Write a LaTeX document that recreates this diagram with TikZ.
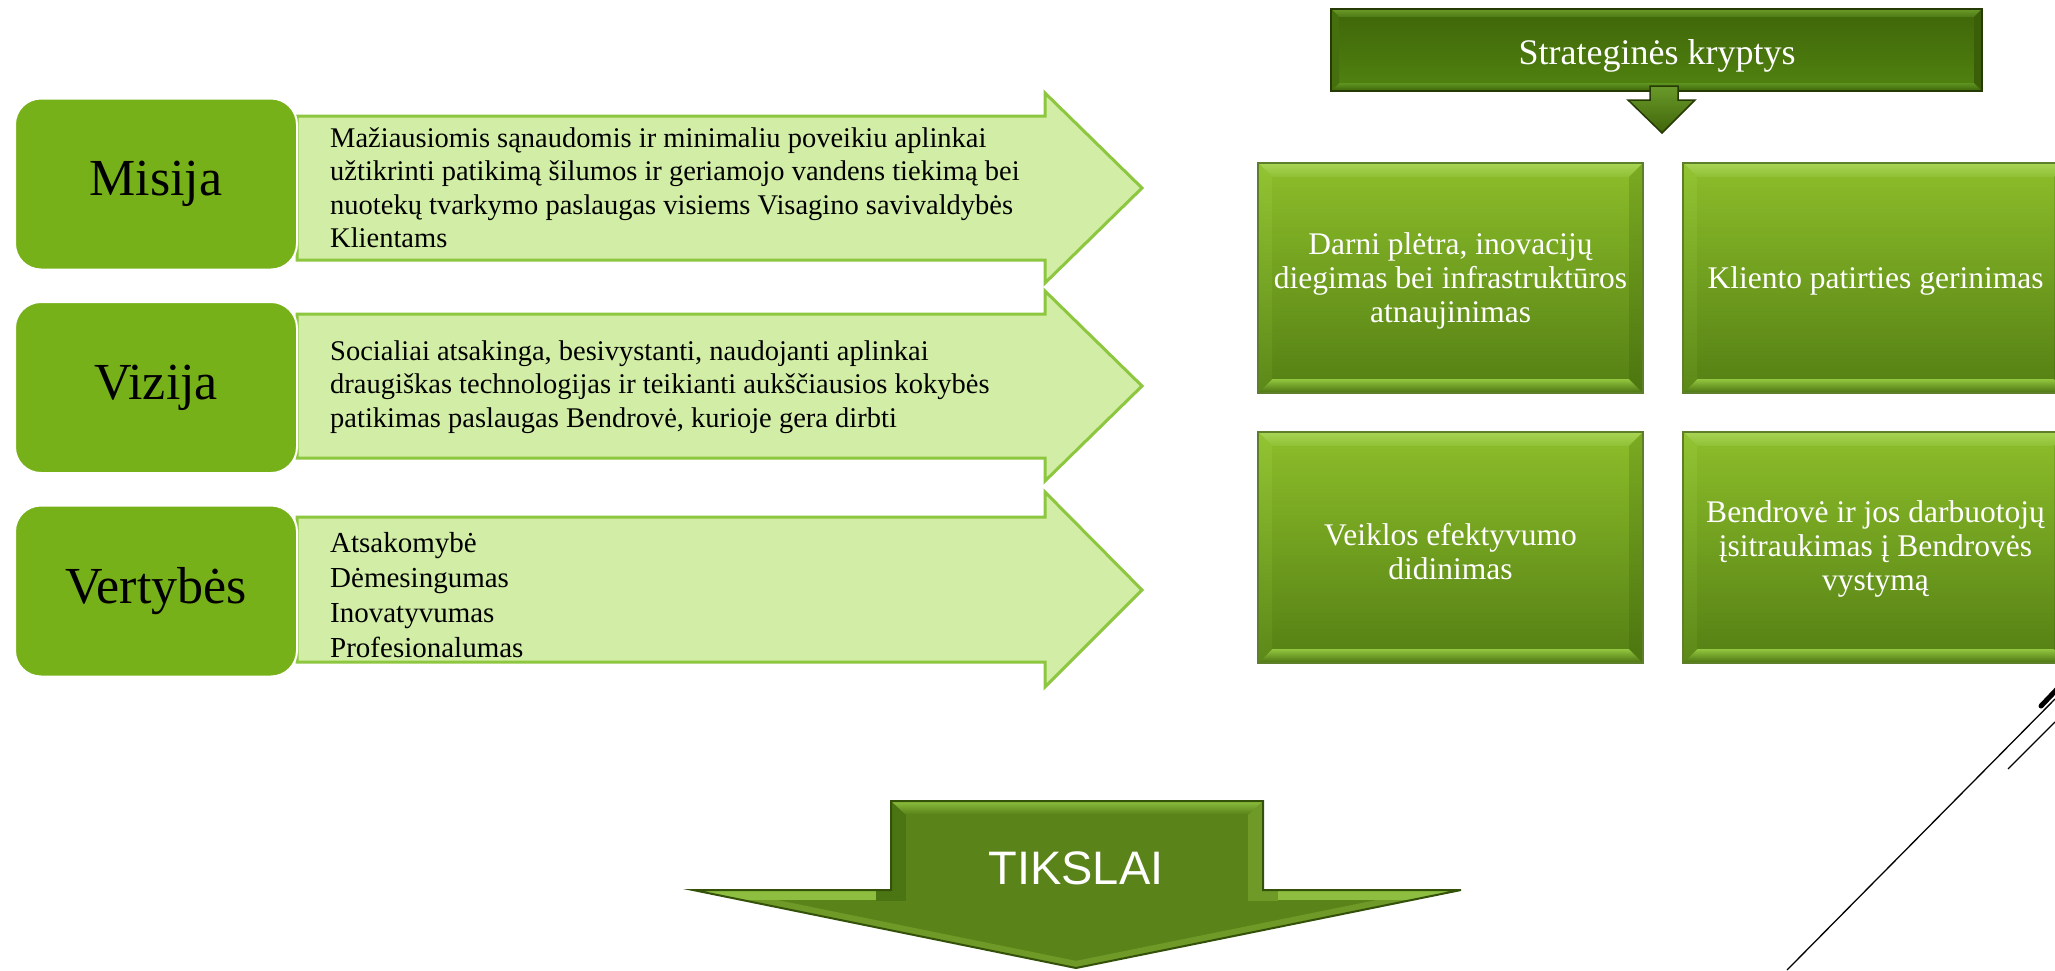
\documentclass[tikz,border=0pt]{standalone}
\usepackage{fontspec}
\setmainfont{Liberation Serif}
\newfontfamily\arialf{Liberation Sans}
\usetikzlibrary{calc}
\definecolor{boxgreen}{HTML}{77B11A}
\definecolor{arrfill}{HTML}{D2EEA6}
\definecolor{arrline}{HTML}{8DC63F}
\newcommand{\bvbox}[6]{%
  \shade[#6 face] (#1,#2) rectangle (#3,#4);
  \shade[#6 top] (#1,#2) -- (#3,#2) -- (#3-#5,#2+#5) -- (#1+#5,#2+#5) -- cycle;
  \shade[#6 bottom] (#1,#4) -- (#3,#4) -- (#3-#5,#4-#5) -- (#1+#5,#4-#5) -- cycle;
  \shade[#6 left] (#1,#2) -- (#1+#5,#2+#5) -- (#1+#5,#4-#5) -- (#1,#4) -- cycle;
  \shade[#6 right] (#3,#2) -- (#3-#5,#2+#5) -- (#3-#5,#4-#5) -- (#3,#4) -- cycle;
  \draw[#6 border] (#1,#2) rectangle (#3,#4);
}
\begin{document}
\begin{tikzpicture}[x=1pt,y=-1pt,
  lbox/.style={rounded corners=26pt, minimum width=282pt, minimum height=171pt,
    inner sep=0pt, fill=boxgreen, draw=white, line width=2pt,
    font=\fontsize{52}{56}\selectfont},
  arrowshape/.style={fill=arrfill, draw=arrline, line width=3pt, line join=miter},
  atext/.style={inner sep=0pt, align=left, anchor=base west,
    font=\fontsize{28.5}{33.5}\selectfont},
  sqtext/.style={inner sep=0pt, align=center, text=white,
    font=\fontsize{31.5}{34}\selectfont},
  sq face/.style={top color=sqA, bottom color=sqB},
  sq top/.style={top color=sqTa, bottom color=sqTb},
  sq bottom/.style={top color=sqBa, bottom color=sqBb},
  sq left/.style={top color=sqLa, bottom color=sqLb},
  sq right/.style={top color=sqRa, bottom color=sqRb},
  sq border/.style={draw=sqEdge, line width=1.5pt},
  bn face/.style={top color=bnA, bottom color=bnB},
  bn top/.style={top color=bnTa, bottom color=bnTb},
  bn bottom/.style={top color=bnBa, bottom color=bnBb},
  bn left/.style={top color=bnL, bottom color=bnL},
  bn right/.style={top color=bnR, bottom color=bnR},
  bn border/.style={draw=bnEdge, line width=2pt},
  deco/.style={draw=black, line width=1.3pt}
]
\definecolor{sqA}{HTML}{8DBE2A}\definecolor{sqB}{HTML}{547F14}
\definecolor{sqTa}{HTML}{A9D455}\definecolor{sqTb}{HTML}{8EC034}
\definecolor{sqBa}{HTML}{93C63F}\definecolor{sqBb}{HTML}{4A7210}
\definecolor{sqLa}{HTML}{93C432}\definecolor{sqLb}{HTML}{5C8818}
\definecolor{sqRa}{HTML}{7BAA22}\definecolor{sqRb}{HTML}{4C7510}
\definecolor{sqEdge}{HTML}{5D7F2A}
\definecolor{bnA}{HTML}{3F6509}\definecolor{bnB}{HTML}{518310}
\definecolor{bnTa}{HTML}{6A9A2A}\definecolor{bnTb}{HTML}{4E7A14}
\definecolor{bnBa}{HTML}{5E9420}\definecolor{bnBb}{HTML}{3E640A}
\definecolor{bnL}{HTML}{466F0D}\definecolor{bnR}{HTML}{3B5E08}
\definecolor{bnEdge}{HTML}{263A06}
\definecolor{tkFace}{HTML}{5A8419}
\definecolor{tkLight}{HTML}{8DBE3F}
\definecolor{tkDark}{HTML}{4B7412}
\definecolor{tkMid}{HTML}{6F9A28}
\definecolor{tkEdge}{HTML}{34510A}
\useasboundingbox (0,0) rectangle (2055,970);
\fill[white] (0,0) rectangle (2055,970);

% ---- left column arrows
\draw[arrowshape] (297,116) -- (1045,116) -- (1045,93) -- (1142,188) -- (1045,283) -- (1045,260) -- (297,260) -- cycle;
\draw[arrowshape] (297,314) -- (1045,314) -- (1045,291) -- (1142,386) -- (1045,481) -- (1045,458) -- (297,458) -- cycle;
\draw[arrowshape] (297,517) -- (1045,517) -- (1045,492) -- (1142,590) -- (1045,687) -- (1045,662) -- (297,662) -- cycle;

% ---- left boxes
\node[lbox] (mis) at (156,184) {Misija};
\node[lbox] (viz) at (156,387.5) {Vizija};
\node[lbox] (ver) at (156,591) {Vertybės};

% ---- arrow texts (anchor = baseline of the last line)
\node[atext] (mist) at (330,247.5) {Mažiausiomis sąnaudomis ir minimaliu poveikiu aplinkai\\
užtikrinti patikimą šilumos ir geriamojo vandens tiekimą bei\\
nuotekų tvarkymo paslaugas visiems Visagino savivaldybės\\
Klientams};
\node[atext] (vizt) at (330,427) {Socialiai atsakinga, besivystanti, naudojanti aplinkai\\
draugiškas technologijas ir teikianti aukščiausios kokybės\\
patikimas paslaugas Bendrovė, kurioje gera dirbti};
\node[atext, font=\fontsize{29}{35}\selectfont] (vert) at (330,657) {Atsakomybė\\
Dėmesingumas\\
Inovatyvumas\\
Profesionalumas};

% ---- banner
\bvbox{1331}{9}{1982}{91}{8}{bn}
\node[inner sep=0pt, text=white, font=\fontsize{36}{40}\selectfont] (ban) at (1657,56) {Strateginės kryptys};
\shade[top color=bnTa, bottom color=bnA, draw=bnEdge, line width=1.5pt, line join=miter]
  (1650,86) -- (1678,86) -- (1678,100) -- (1695,100) -- (1662,133) -- (1628,100) -- (1650,100) -- cycle;
\coordinate (bantip) at (1662,133);

% ---- four squares
\bvbox{1258}{163}{1643}{393}{14}{sq}
\bvbox{1683}{163}{2068}{393}{14}{sq}
\bvbox{1258}{432}{1643}{663}{14}{sq}
\bvbox{1683}{432}{2068}{663}{14}{sq}
\node[sqtext] (s1) at (1450.5,281) {Darni plėtra, inovacijų\\diegimas bei infrastruktūros\\atnaujinimas};
\node[sqtext] (s2) at (1875.5,281) {Kliento patirties gerinimas};
\node[sqtext] (s3) at (1450.5,552) {Veiklos efektyvumo\\didinimas};
\node[sqtext] (s4) at (1875.5,549) {Bendrovė ir jos darbuotojų\\įsitraukimas į Bendrovės\\vystymą};

% ---- TIKSLAI arrow
\begin{scope}
\clip (891,801) -- (1263,801) -- (1263,890) -- (1461,890) -- (1076,968) -- (693,890) -- (891,890) -- cycle;
\fill[tkFace] (680,790) rectangle (1470,975);
\draw[tkMid, line width=14pt] (693,890) -- (1076,968) -- (1461,890);
\draw[tkLight, line width=20pt] (693,890) -- (891,890);
\draw[tkLight, line width=20pt] (1263,890) -- (1461,890);
\draw[tkDark, line width=30pt] (891,801) -- (891,901);
\draw[tkMid, line width=30pt] (1263,801) -- (1263,901);
\shade[top color=tkLight, bottom color=tkFace] (891,801) -- (1263,801) -- (1249,814) -- (905,814) -- cycle;
\end{scope}
\draw[draw=tkEdge, line width=2pt, line join=miter] (891,801) -- (1263,801) -- (1263,890) -- (1461,890) -- (1076,968) -- (693,890) -- (891,890) -- cycle;
\node[inner sep=0pt, text=white, font=\arialf\fontsize{47}{50}\selectfont] (tik) at (1076,868) {TIKSLAI};

% ---- decorative lines (slide theme)
\coordinate (d1) at (1787,970);
\coordinate (d2) at (2055,699);
\draw[deco] (d1) -- (d2);
\coordinate (d3) at (2041,706);
\coordinate (d4) at (2060,686);
\draw[draw=black, line width=5pt, line cap=round] (d3) -- (d4);
\coordinate (d5) at (2008,769);
\coordinate (d6) at (2055,722);
\draw[deco] (d5) -- (d6);
\end{tikzpicture}
\end{document}
